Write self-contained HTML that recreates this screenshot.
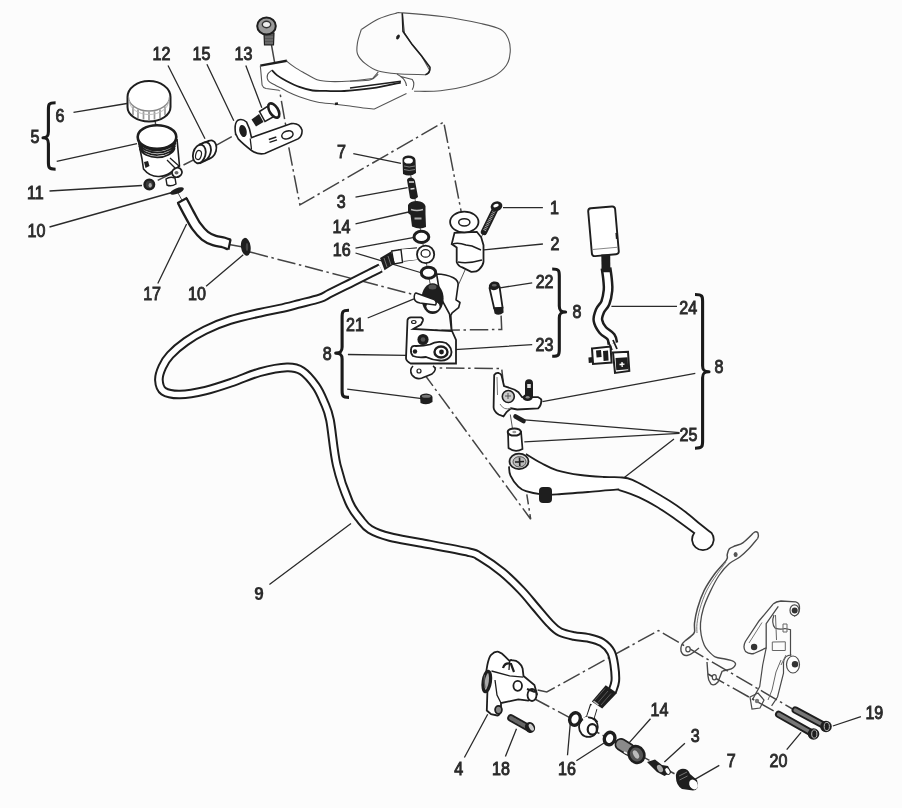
<!DOCTYPE html>
<html><head><meta charset="utf-8"><style>
html,body{margin:0;padding:0;background:#fcfcfc;}
svg{display:block;will-change:transform;}
</style></head><body>
<svg width="902" height="808" viewBox="0 0 902 808">
<rect width="902" height="808" fill="#fcfcfc"/>
<path d="M73.5,112.4 L126.9,103.5 M56.7,161.4 L137,143.6 M49.5,191 L142,185.5 M49.5,227 L172,192.5 M168,65.5 L205,138.8 M206.9,64.3 L233.8,120.8 M245.8,65.5 L261.8,107.8 M157.8,283.5 L186.6,224 M206.1,286.3 L243.3,254.7 M353.3,153.7 L401,163.3 M355.5,197.2 L407.6,187.7 M355.5,223.8 L408.7,212 M355.5,248.2 L413,237.6 M355.5,253 L422,273 M503,207.6 L542.9,207.7 M484,249.8 L542.9,244 M500,287.8 L532.2,282.8 M450.8,349.8 L532.2,344.7 M367.7,318 L414,298.8 M347.9,354.5 L406.5,355.3 M347.2,389.2 L422,398.6 M611.4,306.3 L677,306.3 M695.3,373.4 L542.4,401.6 M679.6,432.6 L521.6,419.6 M679.6,433.4 L524.3,441.8 M674,439 L624,477.8 M269.4,584.4 L351,523.4 M464.4,757.5 L487.7,714.3 M505.4,756.4 L516.5,728.7 M567.5,755.3 L570.8,717.6 M576.4,760.8 L604,743 M650.5,718.8 L629.3,742.6 M684.9,743.2 L664.4,762.1 M719.3,765.4 L691.4,781.4 M860.9,716.6 L832.8,726 M786.7,749.7 L801.1,732.4" stroke="#2a2a2a" stroke-width="1.3" fill="none"/>
<path d="M55.6,102.7 C48.4,102.7 48.4,104.7 48.4,109.7 L48.4,131.7 C48.4,135.7 47.4,137.7 43,137.7 C47.4,137.7 48.4,139.7 48.4,143.7 L48.4,162.2 C48.4,167.2 48.4,169.2 55.6,169.2 M552.2,269 C559.3,269 559.3,271 559.3,276 L559.3,306 C559.3,310 560.3,312 565.6,312 C560.3,312 559.3,314 559.3,318 L559.3,349.3 C559.3,354.3 559.3,356.3 552.2,356.3 M349,310.2 C342.1,310.2 342.1,312.2 342.1,317.2 L342.1,347.1 C342.1,351.1 341.1,353.1 335.7,353.1 C341.1,353.1 342.1,355.1 342.1,359.1 L342.1,390.4 C342.1,395.4 342.1,397.4 349,397.4 M695,294.5 C702.6,294.5 702.6,296.5 702.6,301.5 L702.6,365.8 C702.6,369.8 703.6,371.8 709,371.8 C703.6,371.8 702.6,373.8 702.6,377.8 L702.6,441.2 C702.6,446.2 702.6,448.2 695,448.2" stroke="#1a1a1a" stroke-width="3.1" fill="none" stroke-linejoin="round"/>
<path d="M271.5,45.0 L287.4,135.0 M288.8,147.4 L299.9,204.9 L443.7,122.1 L463.0,221.0 M250.0,252.0 L413.0,294.4 M413.0,330.5 L501.7,329.5 L501.1,315.6 M417.6,367.8 L501.7,368.6 L503.5,385.0 M422.0,371.0 L530.7,519.2 L526.8,494.3 M155.0,120.0 L158.7,146.7 M157.7,180.4 L173.6,172.5 M183.5,165.0 L200.0,156.6 M215.6,145.6 L240.9,131.6 M229.0,244.5 L243.0,247.0 M537.6,690.0 L546.8,692.0 L658.4,630.5 L796.0,711.0 M708.0,674.0 L780.0,714.5 M533.0,698.0 L690.0,782.0" stroke="#444" stroke-width="1.5" fill="none" stroke-dasharray="18.5 3.6 2.5 3.8"/>
<path d="M408.0,160.0 L433.0,300.0 M466.7,266.3 L457.0,288.0 M484.0,231.8 L480.1,239.6 M510.3,414.5 L512.8,430.6 M178.0,193.0 L183.0,202.0" stroke="#555" stroke-width="1" fill="none"/>
<path d="M380.6,268.0 C378.8,268.9 375.1,270.7 370.0,273.3 C364.9,275.9 356.7,280.1 350.0,283.4 C343.3,286.7 335.0,290.8 330.0,293.3 C325.0,295.8 325.0,296.6 320.0,298.3 C315.0,300.0 306.7,301.9 300.0,303.6 C293.3,305.3 286.7,307.1 280.0,308.6 C273.3,310.1 268.3,310.8 260.0,312.7 C251.7,314.6 239.2,317.3 230.0,320.2 C220.8,323.1 212.3,326.6 205.0,330.2 C197.7,333.8 191.8,337.4 186.0,341.5 C180.2,345.6 174.1,350.8 170.2,355.0 C166.2,359.2 164.2,362.8 162.3,367.0 C160.4,371.2 158.7,376.0 158.9,380.0 C159.1,384.0 160.1,388.8 163.6,391.2 C167.1,393.6 173.0,394.6 180.0,394.5 C187.0,394.4 196.6,392.7 205.4,390.6 C214.2,388.5 224.0,385.1 233.1,382.0 C242.2,378.9 251.0,374.6 260.0,372.2 C269.0,369.8 280.0,367.6 287.0,367.4 C294.0,367.2 297.2,367.9 302.0,371.0 C306.8,374.1 312.2,380.8 315.9,386.0 C319.6,391.2 321.6,396.3 324.0,402.0 C326.4,407.7 327.9,409.5 330.0,420.0 C332.1,430.5 333.5,451.3 336.7,465.0 C339.9,478.7 345.1,493.0 349.0,502.0 C352.9,511.0 356.5,514.5 360.0,519.0 C363.5,523.5 365.0,526.3 370.0,529.3 C375.0,532.3 381.7,534.8 390.0,537.0 C398.3,539.2 406.8,540.2 420.0,542.7 C433.2,545.2 459.0,549.9 469.0,552.2 C479.0,554.5 474.5,553.4 480.0,556.7 C485.5,560.0 495.2,566.5 502.0,572.0 C508.8,577.5 515.3,584.1 521.0,590.0 C526.7,595.9 531.1,601.8 536.0,607.5 C540.9,613.2 546.3,619.9 550.3,624.0 C554.3,628.1 556.0,630.0 560.0,632.0 C564.0,634.0 569.3,635.0 574.0,636.0 C578.7,637.0 583.3,636.7 588.0,637.8 C592.7,638.9 598.2,640.1 602.0,642.5 C605.8,644.9 609.0,648.2 611.0,652.0 C613.0,655.8 613.6,660.2 614.3,665.0 C615.0,669.8 615.7,676.5 615.3,681.0 C614.9,685.5 612.5,690.2 612.0,692.0" stroke="#1e1e1e" stroke-width="9.6" fill="none" stroke-linecap="butt"/>
<path d="M380.6,268.0 C378.8,268.9 375.1,270.7 370.0,273.3 C364.9,275.9 356.7,280.1 350.0,283.4 C343.3,286.7 335.0,290.8 330.0,293.3 C325.0,295.8 325.0,296.6 320.0,298.3 C315.0,300.0 306.7,301.9 300.0,303.6 C293.3,305.3 286.7,307.1 280.0,308.6 C273.3,310.1 268.3,310.8 260.0,312.7 C251.7,314.6 239.2,317.3 230.0,320.2 C220.8,323.1 212.3,326.6 205.0,330.2 C197.7,333.8 191.8,337.4 186.0,341.5 C180.2,345.6 174.1,350.8 170.2,355.0 C166.2,359.2 164.2,362.8 162.3,367.0 C160.4,371.2 158.7,376.0 158.9,380.0 C159.1,384.0 160.1,388.8 163.6,391.2 C167.1,393.6 173.0,394.6 180.0,394.5 C187.0,394.4 196.6,392.7 205.4,390.6 C214.2,388.5 224.0,385.1 233.1,382.0 C242.2,378.9 251.0,374.6 260.0,372.2 C269.0,369.8 280.0,367.6 287.0,367.4 C294.0,367.2 297.2,367.9 302.0,371.0 C306.8,374.1 312.2,380.8 315.9,386.0 C319.6,391.2 321.6,396.3 324.0,402.0 C326.4,407.7 327.9,409.5 330.0,420.0 C332.1,430.5 333.5,451.3 336.7,465.0 C339.9,478.7 345.1,493.0 349.0,502.0 C352.9,511.0 356.5,514.5 360.0,519.0 C363.5,523.5 365.0,526.3 370.0,529.3 C375.0,532.3 381.7,534.8 390.0,537.0 C398.3,539.2 406.8,540.2 420.0,542.7 C433.2,545.2 459.0,549.9 469.0,552.2 C479.0,554.5 474.5,553.4 480.0,556.7 C485.5,560.0 495.2,566.5 502.0,572.0 C508.8,577.5 515.3,584.1 521.0,590.0 C526.7,595.9 531.1,601.8 536.0,607.5 C540.9,613.2 546.3,619.9 550.3,624.0 C554.3,628.1 556.0,630.0 560.0,632.0 C564.0,634.0 569.3,635.0 574.0,636.0 C578.7,637.0 583.3,636.7 588.0,637.8 C592.7,638.9 598.2,640.1 602.0,642.5 C605.8,644.9 609.0,648.2 611.0,652.0 C613.0,655.8 613.6,660.2 614.3,665.0 C615.0,669.8 615.7,676.5 615.3,681.0 C614.9,685.5 612.5,690.2 612.0,692.0" stroke="#fff" stroke-width="5.6" fill="none" stroke-linecap="butt"/>
<path d="M526.0,454.0 C528.6,455.6 536.4,460.6 541.6,463.3 C546.8,466.0 550.5,468.4 557.0,470.3 C563.5,472.2 572.6,473.9 580.4,475.0 C588.2,476.1 597.0,476.6 603.6,477.0 C610.2,477.4 615.2,476.8 620.0,477.3 C624.8,477.8 627.2,477.7 632.4,479.8 C637.6,481.9 644.8,486.2 651.0,489.7 C657.2,493.2 663.7,497.1 669.5,500.8 C675.3,504.5 680.5,508.1 685.6,512.0 C690.8,515.9 696.1,520.8 700.4,524.3 C704.7,527.8 709.7,531.5 711.6,533.0 A10.8,10.8 0 1 1 694.2,533  C691.1,530.7 681.9,523.7 675.7,519.4 C669.5,515.1 663.3,510.7 657.1,507.0 C650.9,503.3 644.8,499.9 638.6,497.1 C632.4,494.3 623.8,491.5 620.0,490.3 C616.2,489.1 621.3,489.4 616.0,489.7 C610.7,490.0 597.8,491.2 588.0,492.0 C578.2,492.8 564.7,493.9 557.0,494.3 C549.3,494.7 546.8,494.8 541.6,494.3 C536.4,493.8 529.9,492.5 526.0,491.2 C522.1,489.9 520.9,489.2 518.3,486.6 C515.7,484.0 512.0,479.1 510.5,475.7 C508.9,472.3 509.2,467.9 509.0,466.4" stroke="#1e1e1e" stroke-width="1.8" fill="#fff"/>
<ellipse cx="519" cy="461.4" rx="9.5" ry="7.8" stroke="#1e1e1e" stroke-width="1.8" fill="#d8d8d8"/>
<ellipse cx="519.5" cy="461.8" rx="6.5" ry="5.2" stroke="#555" stroke-width="1" fill="#bbb"/>
<path d="M515,462 L524,461.5 M519.5,457.5 L519.8,466" stroke="#1e1e1e" stroke-width="1.6"/>
<rect x="539" y="487" width="13" height="16" rx="4" fill="#1e1e1e"/>
<path d="M753.2,533.2 C751.5,534.8 745.8,540.7 742.8,542.8 C739.8,544.9 737.6,544.8 735.4,545.8 C733.2,546.8 730.8,547.3 729.4,548.8 C728.0,550.3 727.7,552.9 727.2,554.7 C726.7,556.6 728.6,556.7 726.5,559.9 C724.4,563.1 718.3,568.9 714.6,574.0 C710.9,579.1 707.1,584.7 704.2,590.4 C701.4,596.1 699.1,602.8 697.5,608.2 C695.9,613.7 695.0,619.1 694.5,623.1 C694.0,627.1 695.1,629.8 694.5,632.0 C693.9,634.2 692.4,634.9 690.8,636.4 C689.2,637.9 685.9,640.2 684.9,641.0" fill="none" stroke="#4a4a4a" stroke-width="1.5"/>
<path d="M757.7,538.4 C756.2,540.1 751.8,545.7 748.8,548.8 C745.8,551.9 743.0,554.5 739.8,557.0 C736.6,559.5 732.9,560.5 729.4,563.6 C725.9,566.7 722.2,570.8 719.0,575.5 C715.8,580.2 712.7,586.4 710.1,591.9 C707.5,597.4 705.0,603.0 703.4,608.2 C701.8,613.4 700.9,618.6 700.5,623.1 C700.1,627.6 700.6,631.4 701.2,635.0 C701.8,638.6 703.1,642.4 704.2,645.0 C705.3,647.6 706.2,648.5 708.0,650.5 C709.8,652.5 712.3,655.4 715.1,656.8 C717.9,658.2 722.3,658.4 725.0,659.0 C727.7,659.6 730.1,660.1 731.1,660.3" fill="none" stroke="#4a4a4a" stroke-width="1.3"/>
<path d="M726.0,562.0 C724.4,564.2 719.8,570.2 716.5,575.0 C713.2,579.8 709.2,585.4 706.5,591.0 C703.8,596.6 701.6,603.1 700.0,608.5 C698.4,613.9 697.5,619.4 697.0,623.5 C696.5,627.6 697.0,631.4 697.0,633.0" fill="none" stroke="#777" stroke-width="1"/>
<path d="M753.2,533.2 Q756,530.5 758,533 Q759,536 757.7,538.4" fill="none" stroke="#4a4a4a" stroke-width="1.4"/>
<ellipse cx="735.6" cy="554.5" rx="2" ry="2.6" fill="#555"/>
<path d="M684.9,641 Q680,645 681,651 Q682.5,656 687,655.5 Q691,654.5 694,652 L699,648" fill="none" stroke="#4a4a4a" stroke-width="1.4"/>
<ellipse cx="688" cy="649.2" rx="2.2" ry="2.6" fill="#fff" stroke="#4a4a4a" stroke-width="1.2"/>
<path d="M731.1,660.3 Q736,662 735.5,664.5 Q734,668.5 729,669.5 L722.5,671 M722.2,671 L718,682 Q714,686.5 711,684 Q708,680 708,676 L707,662" fill="none" stroke="#4a4a4a" stroke-width="1.4"/>
<ellipse cx="714.3" cy="677.2" rx="2" ry="2.6" fill="#fff" stroke="#4a4a4a" stroke-width="1.2"/>
<path d="M773.1,604.1 Q776,601.5 781,601 L795.7,601.9 Q800,603 799.5,609 Q799,615 794,616" fill="none" stroke="#4a4a4a" stroke-width="1.3"/>
<ellipse cx="794.5" cy="610.3" rx="4.5" ry="5.5" fill="#fff" stroke="#4a4a4a" stroke-width="1.2"/>
<circle cx="794.7" cy="610.5" r="3" fill="#333"/>
<path d="M773.1,604.1 L759,621 L745.4,641.5 Q742.5,647 745.5,651.5 Q749,654.5 754,653.5 L766.2,647.9 L766.2,623.6 L778.3,606.3" fill="none" stroke="#4a4a4a" stroke-width="1.3"/>
<path d="M762,622.5 L749,643" stroke="#777" stroke-width="1"/>
<circle cx="754.1" cy="647" r="3.2" fill="#333"/>
<path d="M766.2,647.9 L762.7,665 L759.7,686.5 L752.3,699.9" fill="none" stroke="#4a4a4a" stroke-width="1.2"/>
<path d="M774,615 Q771,623 775,628 Q780,630 785,628.5 L790.5,629.7 L790.5,655.7" fill="none" stroke="#4a4a4a" stroke-width="1.2"/>
<path d="M775.5,615 L776.5,640 M772.3,642 L785.3,641.8 L785.3,650.5 L772.3,650.5 Z M783,624 l4,0 l0,8 l-4,0 Z" fill="none" stroke="#666" stroke-width="1"/>
<path d="M791.5,655 Q784,655 783.5,663 L783.5,673.2 L777.5,697 L771.6,705.8" fill="none" stroke="#4a4a4a" stroke-width="1.2"/>
<ellipse cx="793" cy="664.5" rx="6.5" ry="8.5" fill="#fff" stroke="#4a4a4a" stroke-width="1.2"/>
<circle cx="795" cy="664.3" r="3.2" fill="#333"/>
<path d="M781,660 L776,672 L772,690 L768,700 M786,655 L781,665" fill="none" stroke="#666" stroke-width="1"/>
<path d="M750,697 L758,693 L764,700 L760,708 L752,709 Z" fill="none" stroke="#4a4a4a" stroke-width="1.2"/>
<circle cx="757" cy="701" r="2.2" fill="#777"/>
<path d="M127.5,97 A21.5,16 0 0 1 170.5,97 L170.5,107 A21.5,14.5 0 0 1 127.5,107 Z" fill="#fff" stroke="#1e1e1e" stroke-width="2"/>
<path d="M133,106.6 L133,115.1 M138,109.6 L138,117.9 M143.5,111.3 L143.5,119.4 M149,111.8 L149,119.9 M154.5,111.3 L154.5,119.4 M160,109.6 L160,117.9 M165,106.6 L165,115.1" stroke="#9a9a9a" stroke-width="1.7" fill="none"/>
<path d="M128.5,97 A20.5,14 0 0 0 169.5,97" fill="none" stroke="#888" stroke-width="1.3"/>
<path d="M129.5,101 A19.5,13.5 0 0 0 168.5,101" fill="none" stroke="#bbb" stroke-width="1"/>
<path d="M138,139 L142,159 L143.5,169 Q150,177 159,176.5 Q166,176 170,173 L179.5,166 L177,139" fill="#fff" stroke="#1e1e1e" stroke-width="1.6"/>
<ellipse cx="157" cy="137" rx="19.3" ry="11.8" fill="#fff" stroke="#1e1e1e" stroke-width="2.6"/>
<path d="M138.5,140.5 A19.0,12 0 0 0 176.0,140.0 M138.9,143.2 A18.7,12 0 0 0 175.6,142.7 M139.3,145.9 A18.4,12 0 0 0 175.2,145.4 M139.7,148.6 A18.1,12 0 0 0 174.8,148.1" fill="none" stroke="#1e1e1e" stroke-width="1.7"/>
<path d="M144,162 l4,-1 l1.5,5 l-4,2 Z" fill="#1e1e1e"/>
<path d="M167,160 L175,168 M170,158 L179,166" stroke="#1e1e1e" stroke-width="1.3" fill="none"/>
<ellipse cx="177" cy="172.5" rx="5" ry="4.5" transform="rotate(-30 177 172.5)" fill="#fff" stroke="#1e1e1e" stroke-width="1.8"/>
<ellipse cx="176.5" cy="172.8" rx="2" ry="1.8" fill="#666"/>
<path d="M166,179 Q170,176 175,178 L176,184 Q171,187 167,185 Z" fill="#fff" stroke="#1e1e1e" stroke-width="1.4"/>
<circle cx="149.3" cy="184.4" r="4.8" fill="#3a3a3a" stroke="#1e1e1e" stroke-width="2.4"/>
<ellipse cx="150.2" cy="185.2" rx="1.6" ry="2.2" fill="#aaa"/>
<ellipse cx="177" cy="191" rx="7.3" ry="2.8" transform="rotate(-22 177 191)" fill="#1e1e1e"/>
<path d="M182.2,200.6 C183.4,202.8 186.9,209.7 189.3,214.0 C191.7,218.3 193.8,222.7 196.4,226.3 C199.0,229.9 201.9,233.3 204.9,235.7 C207.9,238.1 211.2,239.4 214.3,240.5 C217.4,241.6 221.2,241.8 223.7,242.5 C226.2,243.2 228.4,244.2 229.4,244.5" stroke="#1e1e1e" stroke-width="12.2" fill="none"/>
<path d="M182.2,200.6 C183.4,202.8 186.9,209.7 189.3,214.0 C191.7,218.3 193.8,222.7 196.4,226.3 C199.0,229.9 201.9,233.3 204.9,235.7 C207.9,238.1 211.2,239.4 214.3,240.5 C217.4,241.6 221.2,241.8 223.7,242.5 C226.2,243.2 228.4,244.2 229.4,244.5" stroke="#fff" stroke-width="7.6" fill="none"/>
<path d="M177.3,203.3 L187.3,197.8 M230.6,239.2 L228.4,249.8" stroke="#1e1e1e" stroke-width="2.2" fill="none"/>
<ellipse cx="245.8" cy="246.8" rx="4.8" ry="9" transform="rotate(-8 245.8 246.8)" fill="#1e1e1e"/>
<ellipse cx="247" cy="247" rx="1.2" ry="4" fill="#444"/>
<path d="M199,144.5 L209.5,140.5 M199.5,163.5 L210,158.5" stroke="#1e1e1e" stroke-width="1.6"/>
<ellipse cx="210" cy="149.5" rx="6.2" ry="9.2" transform="rotate(15 210 149.5)" fill="#fff" stroke="#1e1e1e" stroke-width="1.8"/>
<ellipse cx="204.5" cy="151.5" rx="6.2" ry="9.4" transform="rotate(15 204.5 151.5)" fill="#fff" stroke="#1e1e1e" stroke-width="1.8"/>
<ellipse cx="199.3" cy="154" rx="6.2" ry="9.4" transform="rotate(15 199.3 154)" fill="#fff" stroke="#1e1e1e" stroke-width="1.8"/>
<ellipse cx="198.5" cy="155" rx="2.8" ry="4.6" transform="rotate(15 198.5 155)" fill="#fff" stroke="#1e1e1e" stroke-width="1.2"/>
<path d="M235.6,133.6 Q234,124 237.5,120.5 Q242,118 246.5,122 L249.5,129 L251.5,137.6 L291.4,123.6 Q299.4,122.5 302,130 Q302.5,136 298,138.9 L264.8,153.5 Q258,155 251.5,150.5 Q243,144 238.2,138.9 Z" fill="#fff" stroke="#1e1e1e" stroke-width="1.6"/>
<path d="M250.2,138.5 L251.5,149.5" stroke="#1e1e1e" stroke-width="1.3"/>
<ellipse cx="243" cy="131" rx="3.6" ry="6.2" transform="rotate(-15 243 131)" fill="#1e1e1e"/>
<ellipse cx="287.4" cy="134.9" rx="5.8" ry="3.8" transform="rotate(-18 287.4 134.9)" fill="#fff" stroke="#1e1e1e" stroke-width="1.5"/>
<path d="M268.8,139.5 l7.5,-2.5 M269.5,142.3 l7.5,-2.5" stroke="#1e1e1e" stroke-width="1.4"/>
<path d="M251.5,119.5 L259,114 L263.5,122 L256,126.5 Z" fill="#1e1e1e"/>
<path d="M259.5,111.5 L268,106 L274,116.5 L265,121.5 Z" fill="#fff" stroke="#1e1e1e" stroke-width="1.5"/>
<ellipse cx="273.8" cy="110.5" rx="4.2" ry="8" transform="rotate(-32 273.8 110.5)" fill="#fff" stroke="#1e1e1e" stroke-width="2.6"/>
<path d="M264,33 L264.5,45 L273.5,45 L274,33 Z" fill="#555" stroke="#1e1e1e" stroke-width="1.2"/>
<path d="M265,37 l8,0 M265,40 l8,0 M265,43 l8,0" stroke="#888" stroke-width="0.8"/>
<ellipse cx="266.5" cy="26" rx="9.3" ry="8.5" fill="#999" stroke="#1e1e1e" stroke-width="2"/>
<ellipse cx="266.5" cy="24.5" rx="4.2" ry="3.2" fill="#eee" stroke="#333" stroke-width="1.4"/>
<path d="M260.3,65.6 L286.9,60.8 L287.8,62.1 L294.9,67.4 L303.8,72.7 L317.1,79.8 L326.0,81.2 L335.0,81.6 L370.6,79.7 L378.2,74.1 L400.0,76.0 L412.2,79.4 L414.5,85.0 L412.2,89.8 L406.5,93.6 L374.4,109.0 L363.1,108.0 L335.0,104.2 L317.1,102.0 L299.3,96.7 L288.7,92.2 L279.0,90.3 L266.0,88.5 L262.1,85.2Z" fill="#fff" stroke="none"/>
<path d="M260.3,65.6 L286.9,60.8" stroke="#1e1e1e" stroke-width="2.4"/>
<path d="M286.9,60.8 C287.0,61.0 286.5,61.0 287.8,62.1 C289.1,63.2 292.2,65.6 294.9,67.4 C297.6,69.2 300.1,70.6 303.8,72.7 C307.5,74.8 313.4,78.4 317.1,79.8 C320.8,81.2 323.0,80.9 326.0,81.2 C329.0,81.5 330.7,81.6 335.0,81.6 C339.3,81.6 346.1,81.3 352.0,81.0 C357.9,80.7 366.2,80.9 370.6,79.7 C375.0,78.5 376.9,75.0 378.2,74.1" fill="none" stroke="#555" stroke-width="1.1"/>
<path d="M260.3,65.6 L262.1,85.2 Q263,88 266,88.5 L279,90.3" fill="none" stroke="#555" stroke-width="1.1"/>
<path d="M271.9,70.1 C272.8,71.0 274.8,73.6 277.2,75.4 C279.6,77.2 282.3,78.8 286.0,80.7 C289.7,82.6 294.9,85.3 299.3,86.9 C303.7,88.5 308.2,89.8 312.6,90.5 C317.1,91.2 320.7,90.8 326.0,90.9 C331.3,91.0 336.4,91.5 344.2,91.0 C351.9,90.5 363.1,89.6 372.5,88.2 C381.9,86.8 396.1,83.5 400.8,82.6" fill="none" stroke="#1e1e1e" stroke-width="1.8"/>
<path d="M271.9,70.1 C271.2,70.8 268.2,72.7 267.6,74.5 C267.0,76.3 267.0,78.9 268.3,80.7 C269.6,82.5 273.3,84.0 275.4,85.2 C277.5,86.4 278.8,86.8 281.0,88.0 C283.2,89.2 285.6,90.8 288.7,92.2 C291.8,93.7 294.6,95.1 299.3,96.7 C304.0,98.3 311.2,100.8 317.1,102.0 C323.1,103.2 329.5,103.5 335.0,104.2 C340.5,104.9 345.3,105.4 350.0,106.0 C354.7,106.6 359.0,107.5 363.1,108.0 C367.2,108.5 372.5,108.8 374.4,109.0 L406.5,93.6" fill="none" stroke="#555" stroke-width="1.1"/>
<path d="M335,104 l3,-0.6" stroke="#1e1e1e" stroke-width="2.5"/>
<path d="M361.3,29.5 C364.1,27.8 372.7,21.8 378.3,19.1 C383.9,16.4 391.1,14.5 395.2,13.5 C399.3,12.5 394.6,12.3 402.8,12.9 C411.0,13.5 431.0,15.0 444.2,16.8 C457.4,18.6 472.6,21.7 482.0,23.8 C491.4,25.9 496.4,27.0 500.8,29.5 C505.2,32.0 506.7,35.1 508.3,38.9 C509.9,42.7 510.5,47.7 510.2,52.1 C509.9,56.5 509.2,61.2 506.4,65.3 C503.6,69.4 499.8,73.1 493.2,76.6 C486.6,80.0 475.6,83.6 466.8,86.0 C458.0,88.4 449.3,89.9 440.5,90.8 C431.7,91.7 418.5,91.2 414.1,91.3" fill="none" stroke="#555" stroke-width="1.1"/>
<path d="M361.3,29.5 C360.7,31.7 358.1,38.6 357.5,42.7 C356.9,46.8 356.2,50.5 357.5,54.0 C358.8,57.5 361.5,60.6 365.0,63.4 C368.5,66.2 372.9,69.3 378.3,71.0 C383.7,72.7 389.2,73.2 397.1,73.8 C405.0,74.4 420.7,74.5 425.4,74.7 Q429,74 429.5,70 L421.6,55.9 L412.2,44.6 L404.5,33 L402.3,13.2" fill="none" stroke="#555" stroke-width="1.1"/>
<path d="M402.3,13.2 L403,31.4 L412.2,44.6 L421.6,55.9 L430,67.2 Q430.5,73 425.4,74.7" fill="none" stroke="#1e1e1e" stroke-width="1.6"/>
<path d="M378.3,71.9 L372.6,78.5 L350,81.3 M397,74 L400.9,76.6 L412.2,79.4 Q415.5,84 412.2,89.8 M400,76 Q406,80 406.5,86" fill="none" stroke="#555" stroke-width="1.1"/>
<path d="M350,87.9 L400.9,81.3" fill="none" stroke="#1e1e1e" stroke-width="1.5"/>
<ellipse cx="398" cy="37" rx="1.6" ry="2.6" transform="rotate(30 398 37)" fill="#1e1e1e"/>
<path d="M402.5,160 Q402,156 408,155.5 Q415,155.5 415.5,160 L416,173 Q410,177.5 403,174 Z" fill="#1e1e1e"/>
<ellipse cx="408.5" cy="160.8" rx="4.4" ry="2.8" fill="#fff"/>
<path d="M404,166 q5,2 11,0 M404,169.5 q5,2 11,0" stroke="#999" stroke-width="0.8" fill="none"/>
<path d="M407,180 Q407.5,177.5 411,177.5 Q414.5,178 415,181 L418,197 Q414,201 410,198 Z" fill="#1e1e1e"/>
<path d="M409,182 l5,0 M410.5,189 l4,-0.5" stroke="#ddd" stroke-width="1.6"/>
<path d="M408,205 Q410,201 417,201 Q424,201.5 425.5,206 L425.5,214 L426,227 Q420,230 412,226.5 L410.5,215 L408,213 Z" fill="#1e1e1e"/>
<path d="M411,209.5 q6,2 12,0" stroke="#bbb" stroke-width="1.4" fill="none"/>
<path d="M414.5,218.5 l7,0" stroke="#aaa" stroke-width="2"/>
<ellipse cx="421.4" cy="236.9" rx="7.4" ry="5.6" fill="#fff" stroke="#1e1e1e" stroke-width="3"/>
<path d="M398,250 L417,248 M403.4,261 L418,259" stroke="#1e1e1e" stroke-width="1.6"/>
<path d="M398.5,249.5 L417,248.5 L418,259.5 L403.4,261 Z" fill="#fff"/>
<ellipse cx="425.6" cy="254.4" rx="8.6" ry="8.8" fill="#fff" stroke="#1e1e1e" stroke-width="1.8"/>
<ellipse cx="425.6" cy="253.4" rx="4.5" ry="3.8" fill="#fff" stroke="#1e1e1e" stroke-width="1.3"/>
<path d="M391.7,251 L401,249.5 L402.5,262.5 L394,264 Z" fill="#fff" stroke="#1e1e1e" stroke-width="1.4"/>
<path d="M380,258 L391,251.5 L395,263.5 L384.5,270.3 Z" fill="#1e1e1e"/>
<path d="M384,258 l3,9 M388,256 l3,9" stroke="#888" stroke-width="0.8"/>
<ellipse cx="428.5" cy="272.7" rx="7.2" ry="5.5" fill="#fff" stroke="#1e1e1e" stroke-width="3"/>
<path d="M436.6,274 Q446,274 453.4,277.8 Q459,281 458,285.6 L456,299.9 L460,302.5 L458.6,307.7 L452.1,312.9 L450.8,315.5 L452,335 L449.5,314 L440.5,297.3 Z" fill="#fff" stroke="#1e1e1e" stroke-width="1.6" stroke-linejoin="round"/>
<path d="M407.5,320 Q408,317.5 411,317.3 L421,317.4 Q423.5,318.5 422.9,320.6 L421,324.5 L413.2,329 L452,331 L456,340 L456,363.5 L421,363.5 L410.6,363.5 Q406,361 406,358.3 Z" fill="#fff" stroke="#1e1e1e" stroke-width="1.8"/>
<ellipse cx="413.8" cy="322" rx="2.2" ry="1.5" fill="#fff" stroke="#1e1e1e" stroke-width="1.2"/>
<path d="M411,350 Q411,345 416,346 Q424,346 430,344.5 Q437,340 446,343 Q453,348 451,355 Q448,361 440,360.5 Q432,360 426,357 Q418,358 413,356 Q410.5,353.5 411,350 Z" fill="#fff" stroke="#1e1e1e" stroke-width="1.8"/>
<ellipse cx="441" cy="352" rx="6.5" ry="5.5" fill="#fff" stroke="#1e1e1e" stroke-width="2.4"/>
<circle cx="441.5" cy="352" r="2.4" fill="#1e1e1e"/>
<circle cx="415" cy="351.5" r="2.2" fill="#1e1e1e"/>
<circle cx="423" cy="339.5" r="5.6" fill="#1e1e1e"/>
<circle cx="423" cy="339.5" r="2.3" fill="#555"/>
<ellipse cx="432.6" cy="298.6" rx="11" ry="15.4" fill="#1e1e1e"/>
<ellipse cx="433" cy="306.5" rx="6.6" ry="4.8" fill="#fff"/>
<ellipse cx="432.5" cy="287" rx="4" ry="2.5" fill="#555"/>
<path d="M416,293 L434,299.5 Q437.5,302 435.5,305 L420,303 Q414,302 414.2,297 Q414.5,293 416,293 Z" fill="#fff" stroke="#1e1e1e" stroke-width="1.5"/>
<path d="M413,366 Q409,370 412,375 Q416,380 422,378 L432,374 Q438,369 433,366" fill="#fff" stroke="#1e1e1e" stroke-width="1.6"/>
<circle cx="419" cy="371" r="2" fill="#fff" stroke="#1e1e1e" stroke-width="1.2"/>
<path d="M420,396 Q421,393.5 426.5,393.5 Q432,394 432.5,397 L432.5,402 Q427,406 420.5,403 Z" fill="#1e1e1e"/>
<ellipse cx="426.3" cy="396.2" rx="4.5" ry="1.5" fill="#777"/>
<path d="M454.5,232.9 L451.7,244 L456.7,247.4 L456.7,261.9 Q458,266 462.3,267.4 L471.2,271.9 Q477,272 479,269.7 Q483,266 483.5,261.9 L483.5,245.2 L481.2,237.3 L476.8,231.8 Z" fill="#fff" stroke="#1e1e1e" stroke-width="1.8"/>
<path d="M452.5,244 Q458,242 466,245 L472,246 L481,250 M458,262 Q468,264 482,260" fill="none" stroke="#1e1e1e" stroke-width="1.5"/>
<ellipse cx="464.3" cy="222" rx="14.2" ry="10.4" fill="#fff" stroke="#1e1e1e" stroke-width="1.8"/>
<ellipse cx="464.3" cy="222.3" rx="5.6" ry="3.6" fill="#fff" stroke="#1e1e1e" stroke-width="1.5"/>
<path d="M484,232 L496,207.5" stroke="#1e1e1e" stroke-width="6.4" stroke-linecap="round"/>
<path d="M484.5,230.5 L495.5,208.5" stroke="#aaa" stroke-width="3" stroke-dasharray="0.9 0.9"/>
<ellipse cx="496.5" cy="206.3" rx="6" ry="4.8" transform="rotate(-20 496.5 206.3)" fill="#1e1e1e"/>
<ellipse cx="496" cy="205.6" rx="2.8" ry="1.6" transform="rotate(-20 496 205.6)" fill="#fff"/>
<path d="M489.5,288 L494.2,308.5 L502.6,307.8 L499.5,286.5 Z" fill="#fff" stroke="#1e1e1e" stroke-width="1.8" stroke-linejoin="round"/>
<ellipse cx="494.3" cy="285.8" rx="5.5" ry="4.3" transform="rotate(-12 494.3 285.8)" fill="#1e1e1e"/>
<ellipse cx="494.3" cy="285.3" rx="2.5" ry="1.2" fill="#666"/>
<path d="M493.4,307.5 L503.2,306.8 L503.6,312.5 Q499,316.5 494.6,313.5 Z" fill="#1e1e1e"/>
<g transform="rotate(-5 603.5 231.3)"><rect x="590" y="207.3" width="27" height="48" rx="3" fill="#fff" stroke="#1e1e1e" stroke-width="1.9"/><path d="M591,248.5 L616,248.5" stroke="#888" stroke-width="1"/><path d="M616,234 l0,6" stroke="#1e1e1e" stroke-width="1.6"/></g>
<path d="M606.0,268.0 C606.3,270.0 607.3,276.3 607.6,280.0 C607.9,283.7 608.4,286.6 608.0,290.4 C607.6,294.2 606.7,299.3 605.4,302.7 C604.1,306.1 601.2,307.9 600.0,310.9 C598.8,313.8 597.4,317.2 597.9,320.4 C598.4,323.6 600.5,327.3 602.7,330.0 C604.9,332.7 609.2,334.5 610.9,336.8 C612.6,339.1 612.6,342.5 612.9,343.6" fill="none" stroke="#1e1e1e" stroke-width="11"/>
<path d="M606.0,268.0 C606.3,270.0 607.3,276.3 607.6,280.0 C607.9,283.7 608.4,286.6 608.0,290.4 C607.6,294.2 606.7,299.3 605.4,302.7 C604.1,306.1 601.2,307.9 600.0,310.9 C598.8,313.8 597.4,317.2 597.9,320.4 C598.4,323.6 600.5,327.3 602.7,330.0 C604.9,332.7 609.2,334.5 610.9,336.8 C612.6,339.1 612.6,342.5 612.9,343.6" fill="none" stroke="#fff" stroke-width="6"/>
<path d="M601.3,254.4 L610.2,254.4 L610.4,272.3 L601.6,272.3 Z" fill="#1e1e1e"/>
<path d="M608.5,342 L612,350 M613,340 L617,349" stroke="#1e1e1e" stroke-width="1.8"/>
<path d="M592,348.5 L610.5,346.5 L611.6,362.5 L593,364 Z" fill="#fff" stroke="#1e1e1e" stroke-width="2"/>
<path d="M588.4,357.5 L593,357 L593.3,362.6 L588.8,363 Z M596,350.5 l5,-0.5 l0.6,7 l-5,0.5 Z M603,351 l5,-0.5 l0.6,10 l-5,0.5 Z" fill="#1e1e1e"/>
<path d="M613,352.5 L628,351.7 L629.3,371 L615,372.9 Z" fill="#fff" stroke="#1e1e1e" stroke-width="2"/>
<path d="M615.5,358 l12,-0.8 l0.8,12 l-12,1 Z" fill="#1e1e1e"/><path d="M619.5,364.5 l5,-0.3 M622,362 l0.2,5" stroke="#fff" stroke-width="1.3"/>
<path d="M494.2,375 Q496,372.5 498.6,373 Q501.5,374 501.7,376.1 L504,386 L514.7,389.7 L518.4,392.2 L522.1,397.2 L538.2,397.2 Q542,399 541.3,400.9 Q541,406 538.2,408.3 L517.2,409.5 L511,408.3 L506.6,412 L503.5,416.3 L498.6,414.5 Q493.5,411 493.6,407 Z" fill="#fff" stroke="#1e1e1e" stroke-width="1.8"/>
<path d="M497,377 L497.5,395 M500,404 Q504,411 511,408" fill="none" stroke="#777" stroke-width="1"/>
<circle cx="508.3" cy="396.5" r="6" fill="#ccc" stroke="#1e1e1e" stroke-width="1.6"/>
<path d="M505,396 l6,0 M508,393 l0,6" stroke="#555" stroke-width="1"/>
<path d="M525,397 L525,383 Q525,379.2 529,379.2 Q533,379.2 533,383 L533,397 Z" fill="#1e1e1e"/>
<path d="M527.2,384 L530.8,384 L530.8,388 L527.2,388 Z" fill="#ddd"/>
<ellipse cx="527.6" cy="397.5" rx="5" ry="3.6" fill="#1e1e1e"/>
<ellipse cx="527.6" cy="397.3" rx="2" ry="1.3" fill="#888"/>
<path d="M515.5,416.5 L523.5,421" stroke="#1e1e1e" stroke-width="4.6" stroke-linecap="round"/>
<path d="M508,432 L508.5,448 Q515,453 522.5,449 L521,431" fill="#fff" stroke="#1e1e1e" stroke-width="1.7"/>
<ellipse cx="514.3" cy="432" rx="6.6" ry="3.6" fill="#fff" stroke="#1e1e1e" stroke-width="2"/>
<ellipse cx="514.3" cy="432" rx="2" ry="1.2" fill="#999"/>
<path d="M590,707 L592,703 L597,707 L596,711 Z" fill="#fff"/>
<path d="M591,704 L587,716.5 L582,720.5 M596.5,709 L593.8,718 L597.5,722" fill="none" stroke="#1e1e1e" stroke-width="1.8"/>
<path d="M591,705 L596.5,709 L593.8,718 L587,716.5 Z" fill="#fff"/>
<ellipse cx="588.4" cy="727.1" rx="9.4" ry="9.8" fill="#fff" stroke="#1e1e1e" stroke-width="1.8"/>
<path d="M583,719 L588,717.8" stroke="#fff" stroke-width="2.5"/>
<ellipse cx="592.3" cy="729.4" rx="4.6" ry="5.2" fill="#fff" stroke="#1e1e1e" stroke-width="2.2"/>
<path d="M591.8,701.6 L605.7,685.2 L617,693 L602.2,708.6 Z" fill="#1e1e1e"/>
<path d="M595,700 l10,-11.5 M598,702.5 l10,-11.5 M601,705 l10,-11.5" stroke="#666" stroke-width="0.8"/>
<path d="M593.5,701 l5,4" stroke="#bbb" stroke-width="1.6"/>
<ellipse cx="575" cy="719" rx="5.2" ry="6.4" transform="rotate(20 575 719)" fill="#fff" stroke="#1e1e1e" stroke-width="3.4"/>
<ellipse cx="609.6" cy="738.5" rx="5.2" ry="6.3" transform="rotate(20 609.6 738.5)" fill="#fff" stroke="#1e1e1e" stroke-width="3.4"/>
<path d="M621,744.5 L629,749.5" stroke="#1e1e1e" stroke-width="13" stroke-linecap="round"/>
<path d="M621,744.5 L629,749.5" stroke="#8a8a8a" stroke-width="9.6" stroke-linecap="round"/>
<path d="M624,752 l4,2" stroke="#eee" stroke-width="1.6"/>
<ellipse cx="636.5" cy="754.5" rx="7.6" ry="8.6" transform="rotate(-30 636.5 754.5)" fill="#555" stroke="#1e1e1e" stroke-width="2.6"/>
<ellipse cx="636" cy="754.5" rx="2.5" ry="4.5" transform="rotate(-30 636 754.5)" fill="#bbb"/>
<path d="M647,762 L655,759.5 L662,765 L668,766 L671,772 L664.5,776 L657,772 Z" fill="#1e1e1e"/>
<ellipse cx="660" cy="768.5" rx="2.6" ry="4" transform="rotate(-30 660 768.5)" fill="#aaa"/>
<ellipse cx="667.5" cy="771" rx="2.3" ry="3.6" transform="rotate(-30 667.5 771)" fill="#fff" stroke="#1e1e1e" stroke-width="1"/>
<path d="M676,778 Q675,771 681,769 Q688,768 690,774 L697,780 Q700,790 693,790.5 L682,789 Q676,785 676,778 Z" fill="#1e1e1e"/>
<ellipse cx="693.5" cy="784.5" rx="4" ry="5.2" transform="rotate(-30 693.5 784.5)" fill="#fff"/>
<path d="M679,776 l8,-4 M679.5,780 l8,-4" stroke="#888" stroke-width="0.8"/>
<path d="M487.4,664.7 Q489,657 491.1,654.8 Q495,651 498.5,651.8 Q502,653 504.7,656.1 L509.6,661 Q511,659.5 512.1,660.4 Q516,660 518.3,662.3 Q521.5,665 522.6,668.5 L523.5,676 L534.4,685 L537,694 L534.4,698.2 L528.2,700.6 L518.3,699.4 L501,703.1 L501,711.8 Q499,715.5 497.3,715.5 L491.1,714.2 L486.8,710.5 L487.4,692 L484,685 Z" fill="#fff" stroke="#1e1e1e" stroke-width="1.8"/>
<ellipse cx="486.8" cy="681.5" rx="3.6" ry="10.3" transform="rotate(8 486.8 681.5)" fill="#aaa" stroke="#1e1e1e" stroke-width="3.2"/>
<path d="M484.5,675 Q483.5,681 485,688" fill="none" stroke="#555" stroke-width="1.2"/>
<path d="M491.5,671 L509.6,675.9 L523.3,677.1 M509.6,661 L509,670 M495,680 L497,695 L501,703" fill="none" stroke="#1e1e1e" stroke-width="1.3"/>
<path d="M503,668 Q505,662 511,664 L514,672" fill="none" stroke="#1e1e1e" stroke-width="2.2"/>
<ellipse cx="517.7" cy="685.8" rx="4.3" ry="5" fill="#fff" stroke="#1e1e1e" stroke-width="1.8"/>
<ellipse cx="532" cy="695" rx="4.5" ry="6" fill="#fff" stroke="#1e1e1e" stroke-width="1.8"/>
<path d="M527,689 L535,692" stroke="#1e1e1e" stroke-width="2"/>
<ellipse cx="498.5" cy="709.8" rx="3.4" ry="4" fill="#888" stroke="#1e1e1e" stroke-width="1.8"/>
<path d="M511,718 L527,727" stroke="#1e1e1e" stroke-width="7.6" stroke-linecap="round"/>
<path d="M511,718 L527,727" stroke="#666" stroke-width="4" stroke-linecap="round" stroke-dasharray="1 0.8"/>
<ellipse cx="530" cy="727.5" rx="5" ry="5.6" transform="rotate(-30 530 727.5)" fill="#1e1e1e"/>
<ellipse cx="531.3" cy="727.3" rx="2" ry="3.8" transform="rotate(-30 531.3 727.3)" fill="#ccc"/>
<path d="M795.3,710.1 L826,726.5" stroke="#1e1e1e" stroke-width="7.4" stroke-linecap="round"/><path d="M795.3,710.1 L826,726.5" stroke="#777" stroke-width="3.6000000000000005" stroke-linecap="round"/><circle cx="826" cy="726.5" r="5.8" fill="#1e1e1e"/><ellipse cx="826.8" cy="726.5" rx="2.61" ry="4.06" fill="none" stroke="#bbb" stroke-width="1"/>
<path d="M778.7,714.4 L813.5,734" stroke="#1e1e1e" stroke-width="7.4" stroke-linecap="round"/><path d="M778.7,714.4 L813.5,734" stroke="#777" stroke-width="3.6000000000000005" stroke-linecap="round"/><circle cx="813.5" cy="734" r="5.8" fill="#1e1e1e"/><ellipse cx="814.3" cy="734" rx="2.61" ry="4.06" fill="none" stroke="#bbb" stroke-width="1"/>
<g font-family="Liberation Sans, sans-serif" font-size="17.5" fill="#2b2b2b" stroke="#2b2b2b" stroke-width="0.9"><text transform="translate(55.42 121.98) scale(0.92 1)">6</text><text transform="translate(30.6 143.35) scale(0.92 1)">5</text><text transform="translate(27.1 198.8) scale(0.92 1)">11</text><text transform="translate(27.45 237.42) scale(0.92 1)">10</text><text transform="translate(152.62 60.12) scale(0.92 1)">12</text><text transform="translate(192.58 60.0) scale(0.92 1)">15</text><text transform="translate(234.48 60.12) scale(0.92 1)">13</text><text transform="translate(143.18 300.1) scale(0.92 1)">17</text><text transform="translate(188.05 300.23) scale(0.92 1)">10</text><text transform="translate(337.0 158.3) scale(0.92 1)">7</text><text transform="translate(336.65 207.78) scale(0.92 1)">3</text><text transform="translate(332.6 232.55) scale(0.92 1)">14</text><text transform="translate(332.72 256.42) scale(0.92 1)">16</text><text transform="translate(550.08 214.25) scale(0.92 1)">1</text><text transform="translate(550.4 249.68) scale(0.92 1)">2</text><text transform="translate(535.65 287.62) scale(0.92 1)">22</text><text transform="translate(535.45 350.78) scale(0.92 1)">23</text><text transform="translate(572.6 318.23) scale(0.92 1)">8</text><text transform="translate(679.32 314.27) scale(0.92 1)">24</text><text transform="translate(714.45 372.72) scale(0.92 1)">8</text><text transform="translate(346.0 330.52) scale(0.92 1)">21</text><text transform="translate(322.8 359.83) scale(0.92 1)">8</text><text transform="translate(679.45 440.62) scale(0.92 1)">25</text><text transform="translate(254.36999999999998 599.9699999999999) scale(0.95 1)" font-weight="bold" font-size="18" stroke-width="0.2">9</text><text transform="translate(454.15 774.8) scale(0.92 1)">4</text><text transform="translate(492.02 774.92) scale(0.92 1)">18</text><text transform="translate(557.97 774.92) scale(0.92 1)">16</text><text transform="translate(650.45 716.0) scale(0.92 1)">14</text><text transform="translate(690.7 741.58) scale(0.92 1)">3</text><text transform="translate(726.7 766.7) scale(0.92 1)">7</text><text transform="translate(865.42 719.12) scale(0.92 1)">19</text><text transform="translate(769.62 766.62) scale(0.92 1)">20</text></g>
</svg></body></html>
